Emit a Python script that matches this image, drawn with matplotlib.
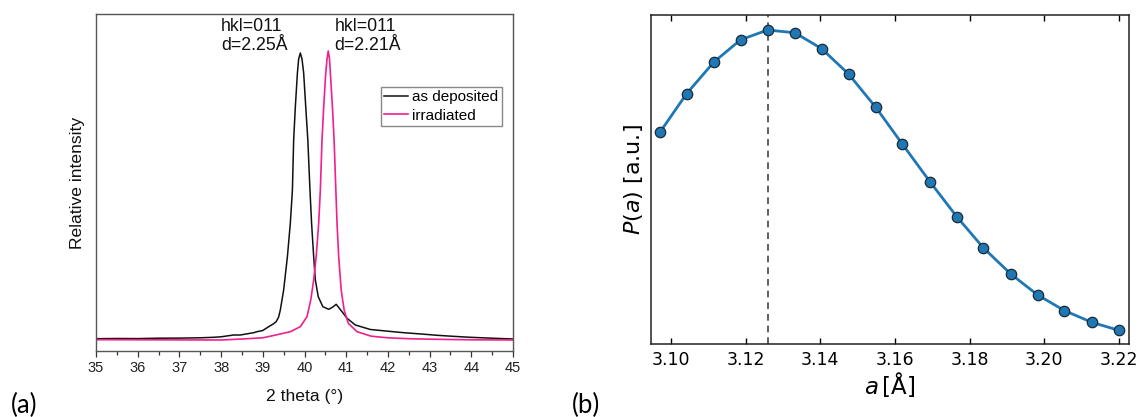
import matplotlib
matplotlib.use("Agg")
import matplotlib.pyplot as plt
from matplotlib.ticker import MultipleLocator, NullLocator

# ---------------- data: panel (a) XRD ----------------
two_theta_dep = [35.0, 35.5, 36.0, 36.5, 37.0, 37.5, 37.82, 38.0, 38.3, 38.46, 38.78, 38.86,
                 39.0, 39.14, 39.25, 39.32, 39.38, 39.42, 39.50, 39.59, 39.66, 39.71, 39.74, 39.78,
                 39.83, 39.86, 39.90, 39.94, 39.98, 40.03, 40.08, 40.13, 40.17, 40.22, 40.26,
                 40.33, 40.44, 40.58, 40.68, 40.76, 40.90, 41.02, 41.22, 41.58, 42.0, 42.38,
                 42.8, 43.18, 43.6, 43.98, 44.5, 45.0]
intensity_dep = [12.3, 12.5, 12.4, 12.8, 12.9, 13.2, 13.7, 14.2, 16.0, 16.0, 18.3, 19.3,
                 20.5, 24.3, 27.0, 29.3, 34.0, 41.0, 61.0, 94.3, 127.7, 161.0, 211.0, 244.0,
                 278.0, 292.0, 298.0, 292.0, 278.0, 244.0, 211.0, 162.0, 127.7, 94.3, 71.0,
                 54.3, 44.3, 41.7, 44.0, 46.7, 39.3, 32.7, 26.0, 21.5, 19.8, 18.3,
                 17.0, 15.7, 14.6, 13.7, 12.8, 12.0]

two_theta_irr = [35.0, 36.0, 37.0, 38.0, 38.5, 39.0, 39.26, 39.66, 39.90, 40.06, 40.15, 40.22,
                 40.28, 40.34, 40.38, 40.42, 40.46, 40.51, 40.54, 40.57, 40.60, 40.62, 40.67,
                 40.71, 40.75, 40.78, 40.82, 40.88, 40.95, 41.05, 41.26, 41.6, 42.0, 42.5,
                 43.0, 44.0, 45.0]
intensity_irr = [11.3, 11.2, 11.1, 11.0, 12.0, 13.2, 15.5, 19.3, 24.3, 34.3, 51.0, 71.0,
                 94.3, 127.7, 161.0, 211.0, 244.0, 278.0, 292.0, 300.0, 292.0, 278.0, 244.0,
                 211.0, 163.0, 127.7, 94.3, 61.0, 41.0, 27.7, 19.3, 14.8, 13.2, 12.3,
                 11.8, 11.2, 11.0]

series_labels = ["as deposited", "irradiated"]
peak_labels = ["hkl=011\nd=2.25Å", "hkl=011\nd=2.21Å"]
peak_label_x = [38.0, 40.72]

# ---------------- data: panel (b) P(a) ----------------
a_values = [3.0971, 3.1042, 3.1115, 3.1187, 3.1259, 3.1332, 3.1404, 3.1476, 3.1549,
            3.1620, 3.1694, 3.1766, 3.1837, 3.1910, 3.1982, 3.2054, 3.2127, 3.2199]
p_values = [63.6, 75.1, 84.6, 91.3, 94.2, 93.4, 88.6, 81.0, 71.0,
            60.0, 48.7, 38.2, 28.9, 21.1, 14.8, 10.1, 6.6, 4.2]
a_peak = 3.1259
b_xticks = [3.10, 3.12, 3.14, 3.16, 3.18, 3.20, 3.22]

W, H = 1141, 417
fig = plt.figure(figsize=(W / 100, H / 100), dpi=100)

# ---------------- panel (a) ----------------
arial = "Liberation Sans"
axa = fig.add_axes([96 / W, 1 - 351 / H, 417 / W, 337 / H])
axa.plot(two_theta_dep, intensity_dep, color="#111111", lw=1.1, label=series_labels[0])
axa.plot(two_theta_irr, intensity_irr, color="#F0208C", lw=1.2, label=series_labels[1])
axa.set_xlim(35, 45)
axa.set_ylim(0, 337)
axa.xaxis.set_major_locator(MultipleLocator(1))
axa.xaxis.set_minor_locator(MultipleLocator(0.5))
axa.yaxis.set_major_locator(NullLocator())
axa.tick_params(axis="x", which="major", direction="out", length=4.5, width=0.9,
                color="#333333", pad=2.5, labelsize=10.5)
axa.tick_params(axis="x", which="minor", direction="out", length=3, width=0.9, color="#333333")
for lab in axa.get_xticklabels():
    lab.set_fontfamily(arial)
    lab.set_color("#222222")
for s in axa.spines.values():
    s.set_color("#555555")
    s.set_linewidth(1.0)
axa.set_xlabel("2 theta (°)", fontsize=12.6, family=arial, color="#111111", labelpad=10)
axa.set_ylabel("Relative intensity", fontsize=12.6, family=arial, color="#111111", labelpad=8)
for txt, xx in zip(peak_labels, peak_label_x):
    axa.text(xx, 315, txt, fontsize=12.8, family=arial, ha="left", va="center",
             linespacing=1.2, color="#111111")
leg = axa.legend(loc="upper right", bbox_to_anchor=(0.973, 0.784), borderaxespad=0,
                 prop={"family": arial, "size": 11}, frameon=True, fancybox=False,
                 handlelength=1.6, handletextpad=0.25, labelspacing=0.3, borderpad=0.22,
                 framealpha=1)
leg.get_frame().set_edgecolor("#888888")
leg.get_frame().set_linewidth(1.0)

# ---------------- panel (b) ----------------
axb = fig.add_axes([650.7 / W, 1 - 344.3 / H, 478 / W, 329.6 / H])
axb.plot(a_values, p_values, color="#1f77b4", lw=2.0, marker="o", markersize=7.5,
         markerfacecolor="#1f77b4", markeredgecolor="#1a2a3a", markeredgewidth=0.9, zorder=3)
axb.axvline(a_peak, color="#444444", lw=1.2, ls=(0, (4, 3)), zorder=2)
axb.set_xlim(3.0946, 3.2226)
axb.set_ylim(0, 98.8)
axb.set_xticks(b_xticks)
axb.set_xticklabels(["%.2f" % t for t in b_xticks])
axb.yaxis.set_major_locator(NullLocator())
axb.tick_params(axis="x", which="major", direction="in", length=4, width=1,
                top=True, bottom=True, pad=4.5, labelsize=12.5)
for s in axb.spines.values():
    s.set_color("#222222")
    s.set_linewidth(1.1)
axb.set_xlabel(r"$a\,$[Å]", fontsize=16.5, labelpad=1)
axb.set_ylabel(r"$P(a)$ [a.u.]", fontsize=16, labelpad=4)

# panel letters
fig.text(11 / W, 1 - 405 / H, "(a)", fontsize=18.5, family="Lato", va="center", ha="left")
fig.text(572 / W, 1 - 405 / H, "(b)", fontsize=18.5, family="Lato", va="center", ha="left")

fig.savefig("out.png", dpi=100)
